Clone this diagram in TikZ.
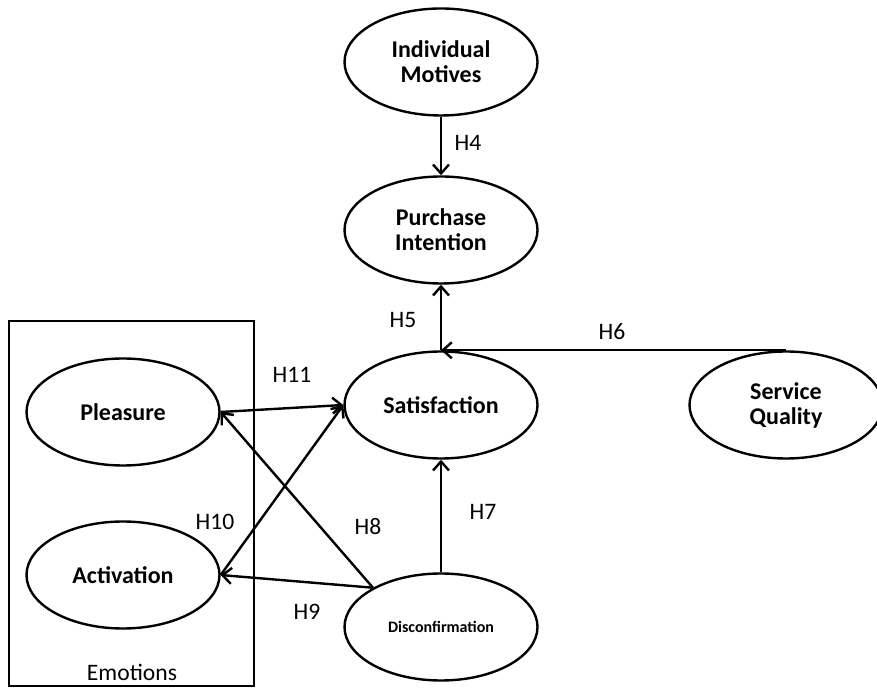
\documentclass[tikz,border=0pt]{standalone}
\usepackage{fontspec}
\setmainfont{Carlito}
\usetikzlibrary{shapes.geometric,arrows.meta}

\begin{document}
\begin{tikzpicture}[x=0.5pt,y=-0.5pt,
  construct/.style={draw, ellipse, line width=1.2pt, minimum width=96.5pt, minimum height=53.5pt,
    inner sep=0pt, align=center, font=\fontsize{12}{12.5}\selectfont\bfseries},
  hyp/.style={line width=1.2pt, -{Straight Barb[length=4.5pt,width=8pt]}},
  lbl/.style={font=\fontsize{11.8}{14}\selectfont}]
\useasboundingbox (0,0) rectangle (877,688);
\coordinate (boxA) at (9,321);
\coordinate (boxB) at (254,686);

\node[construct] (IM) at (441,62) {Individual\\Motives};
\node[construct] (PI) at (441,230) {Purchase\\Intention};
\node[construct] (Sat) at (441,405) {Satisfaction};
\node[construct] (SQ) at (786,405) {Service\\Quality};
\node[construct] (Pl) at (123,412) {Pleasure};
\node[construct] (Act) at (123,575) {Activation};
\node[construct, font=\fontsize{8}{9}\selectfont\bfseries] (Dis) at (441,627) {Disconfirmation};

\draw[line width=1.2pt] (boxA) rectangle (boxB);
\node[lbl] (emo) at (132,672) {Emotions};

\draw[hyp] (IM) -- (PI);
\draw[hyp] (Sat) -- (PI);
\draw[hyp] (SQ.north) -- (Sat.north);
\draw[hyp] (Dis) -- (Sat);
\draw[hyp] (Dis.150) -- (Pl.east);
\draw[hyp] (Dis.150) -- (Act.east);
\draw[hyp] (Act.east) -- (Sat.west);
\draw[hyp] (Pl.east) -- (Sat.west);

\node[lbl] (h4) at (468,143) {H4};
\node[lbl] (h5) at (403,320) {H5};
\node[lbl] (h6) at (612,332) {H6};
\node[lbl] (h7) at (483,512) {H7};
\node[lbl] (h8) at (368,527) {H8};
\node[lbl] (h9) at (307,612) {H9};
\node[lbl] (h10) at (215,522) {H10};
\node[lbl] (h11) at (292,375) {H11};
\end{tikzpicture}
\end{document}
